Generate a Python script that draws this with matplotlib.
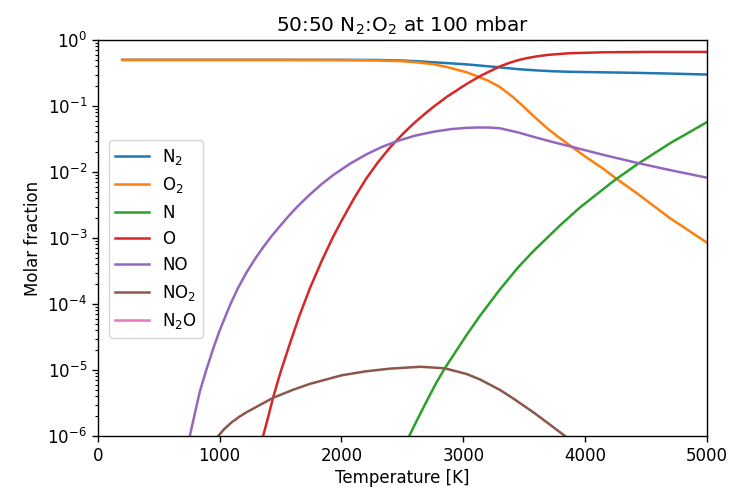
import matplotlib
matplotlib.use("Agg")
import matplotlib.pyplot as plt

# ---- data (temperature in K, molar fraction) ----
T_N2 = [200, 1000, 2000, 2300, 2479, 2620, 2753, 2865, 3027, 3150, 3300, 3450,
        3602, 3740, 3875, 4150, 4422, 4700, 5000]
X_N2 = [0.5, 0.5, 0.5, 0.498, 0.49, 0.477, 0.46, 0.447, 0.427, 0.408, 0.385, 0.362,
        0.346, 0.336, 0.33, 0.324, 0.318, 0.31, 0.30]

T_O2 = [200, 1500, 2000, 2300, 2479, 2620, 2753, 2865, 3027, 3112, 3200, 3300,
        3410, 3500, 3602, 3687, 3780, 3875, 4000, 4149, 4245, 4422, 4696, 5000]
X_O2 = [0.5, 0.5, 0.497, 0.49, 0.48, 0.46, 0.43, 0.39, 0.324, 0.283, 0.244, 0.194,
        0.1355, 0.0955, 0.0638, 0.0462, 0.0339, 0.0253, 0.0172, 0.0112, 0.0082, 0.0048,
        0.0020, 0.00085]

T_N = [2500, 2556, 2620, 2700, 2780, 2849, 3027, 3136, 3300, 3450, 3574, 3793,
       3957, 4245, 4433, 4700, 5000]
X_N = [6.2e-7, 1e-6, 1.74e-6, 3.4e-6, 6.5e-6, 1.07e-5, 3.4e-5, 6.6e-5, 1.66e-4,
       3.6e-4, 6.3e-4, 1.55e-3, 2.9e-3, 7.6e-3, 0.0133, 0.0275, 0.057]

T_O = [1300, 1357, 1400, 1440, 1500, 1576, 1650, 1741, 1840, 1932, 2000, 2100,
       2200, 2300, 2397, 2500, 2589, 2680, 2753, 2865, 3027, 3150, 3300, 3380,
       3450, 3520, 3602, 3700, 3800, 3875, 4149, 4500, 5000]
X_O = [3.6e-7, 1e-6, 2.0e-6, 3.9e-6, 9.3e-6, 2.5e-5, 6.3e-5, 1.74e-4, 4.6e-4,
       1.05e-3, 1.82e-3, 3.9e-3, 7.8e-3, 0.0141, 0.0234, 0.0372, 0.0537, 0.075,
       0.0966, 0.138, 0.216, 0.292, 0.398, 0.452, 0.495, 0.531, 0.565, 0.596,
       0.617, 0.631, 0.652, 0.66, 0.66]

T_NO = [700, 755, 800, 837, 890, 950, 1000, 1090, 1150, 1221, 1300, 1357, 1420,
        1494, 1570, 1640, 1741, 1836, 1932, 2070, 2206, 2330, 2452, 2600, 2753,
        2900, 3027, 3130, 3220, 3300, 3450, 3602, 3740, 3875, 4149, 4422, 4696, 5000]
X_NO = [3.7e-7, 1e-6, 2.35e-6, 4.7e-6, 1.0e-5, 2.19e-5, 3.98e-5, 1.01e-4, 1.74e-4,
        3.02e-4, 5.13e-4, 7.24e-4, 1.035e-3, 1.51e-3, 2.19e-3, 3.02e-3, 4.57e-3,
        6.53e-3, 9.0e-3, 0.01337, 0.01858, 0.0239, 0.0292, 0.0354, 0.0407, 0.0447,
        0.0467, 0.0473, 0.0471, 0.046, 0.0398, 0.0331, 0.0283, 0.0245, 0.0182,
        0.0138, 0.0107, 0.0082]

T_NO2 = [950, 988, 1040, 1100, 1160, 1221, 1350, 1440, 1600, 1741, 2000, 2200,
         2400, 2650, 2849, 3027, 3136, 3300, 3410, 3574, 3684, 3834, 3900]
X_NO2 = [8.1e-7, 1e-6, 1.29e-6, 1.62e-6, 1.95e-6, 2.29e-6, 3.09e-6, 3.8e-6,
         5.0e-6, 6.17e-6, 8.3e-6, 9.55e-6, 1.05e-5, 1.12e-5, 1.06e-5, 8.7e-6,
         7.2e-6, 5.0e-6, 3.7e-6, 2.29e-6, 1.62e-6, 1e-6, 8.1e-7]

T_N2O = [200, 5000]
X_N2O = [1e-9, 1e-9]

labels = ["N$_2$", "O$_2$", "N", "O", "NO", "NO$_2$", "N$_2$O"]
colors = ["#1f77b4", "#ff7f0e", "#2ca02c", "#d62728", "#9467bd", "#8c564b", "#e377c2"]

series = [(T_N2, X_N2), (T_O2, X_O2), (T_N, X_N), (T_O, X_O),
          (T_NO, X_NO), (T_NO2, X_NO2), (T_N2O, X_N2O)]

plt.rcParams["font.size"] = 12
fig = plt.figure(figsize=(7.3, 4.91), dpi=100)
ax = fig.add_axes([0.134, 0.112, 0.8345, 0.8065])

for (t, x), lab, c in zip(series, labels, colors):
    ax.plot(t, x, label=lab, color=c, lw=1.8)

ax.set_yscale("log")
ax.set_xlim(0, 5000)
ax.set_ylim(1e-6, 1)
ax.set_xlabel("Temperature [K]", labelpad=3)
ax.set_ylabel("Molar fraction")
ax.set_title("50:50 N$_2$:O$_2$ at 100 mbar")

for s in ax.spines.values():
    s.set_linewidth(1.0)
ax.tick_params(which="major", length=4.2, width=1.0)
ax.tick_params(which="minor", length=2.4, width=0.8)

ax.legend(loc="upper left", bbox_to_anchor=(0.004, 0.768), fontsize=12,
          handlelength=2.0, borderpad=0.4, labelspacing=0.5)

fig.savefig("out.png", dpi=100)
